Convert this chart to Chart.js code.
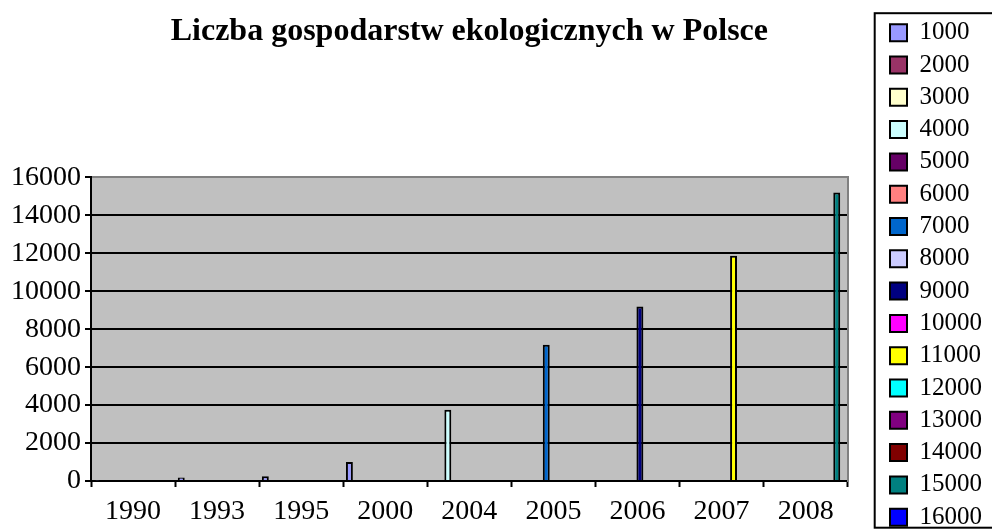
<!DOCTYPE html>
<html>
<head>
<meta charset="utf-8">
<script src="https://cdn.jsdelivr.net/npm/chart.js@4"></script>
<style>
  body { margin: 0; background: #fff; }
</style>
</head>
<body>
<canvas id="chart" width="992" height="531"></canvas>
<script>
// categories (years) on the x axis
const years = ['1990', '1993', '1995', '2000', '2004', '2005', '2006', '2007', '2008'];
// number of organic farms, one bar per year
const farms = [27, 180, 250, 1000, 3760, 7180, 9190, 11870, 15200];
// which legend series each year's bar was drawn in (index into seriesNames)
const seriesOfYear = [0, 0, 0, 0, 3, 6, 8, 10, 14];
// legend series names
const seriesNames = ['1000', '2000', '3000', '4000', '5000', '6000', '7000', '8000',
                     '9000', '10000', '11000', '12000', '13000', '14000', '15000', '16000'];
const seriesColors = ['#9999FF', '#993366', '#FFFFCC', '#CCFFFF', '#660066', '#FF8080', '#0066CC', '#CCCCFF',
                      '#000080', '#FF00FF', '#FFFF00', '#00FFFF', '#800080', '#800000', '#008080', '#0000FF'];
// y axis ticks
const yMax = 16000;
const yStep = 2000;

const serif = "'Times New Roman', 'Liberation Serif', serif";

const datasets = seriesNames.map((name, i) => ({
    label: name,
    data: years.map((y, j) => seriesOfYear[j] === i ? farms[j] : null),
    backgroundColor: seriesColors[i],
    borderColor: '#000',
    borderWidth: 2,
    categoryPercentage: 0.91,
    barPercentage: 1.45
}));

// grey plot background + legend frame
const excelLook = {
    id: 'excelLook',
    beforeDraw(chart) {
        const a = chart.chartArea;
        const c = chart.ctx;
        c.save();
        c.fillStyle = '#C0C0C0';
        c.fillRect(a.left, a.top, a.right - a.left, a.bottom - a.top);
        c.restore();
    },
    afterDraw(chart) {
        const lg = chart.legend;
        const boxes = lg.legendHitBoxes;
        if (!boxes || !boxes.length) return;
        const first = boxes[0];
        const last = boxes[boxes.length - 1];
        const c = chart.ctx;
        c.save();
        c.strokeStyle = '#000';
        c.lineWidth = 2;
        const top = first.top - 7;
        const bottom = last.top + last.height - 2;
        c.strokeRect(lg.left - 8, top, lg.width + 40, bottom - top);
        c.restore();
    }
};

new Chart(document.getElementById('chart'), {
    type: 'bar',
    data: { labels: years, datasets: datasets },
    plugins: [excelLook],
    options: {
        responsive: false,
        animation: false,
        layout: { padding: { left: 7, right: 0, top: 0, bottom: -6 } },
        plugins: {
            title: {
                display: true,
                text: 'Liczba gospodarstw ekologicznych w Polsce',
                color: '#000',
                fullSize: false,
                font: { family: serif, size: 32, weight: 'bold' },
                padding: { top: 13, bottom: 126 }
            },
            legend: {
                position: 'right',
                align: 'end',
                labels: {
                    color: '#000',
                    font: { family: serif, size: 25 },
                    boxWidth: 17,
                    boxHeight: 17,
                    padding: 7.3
                }
            },
            tooltip: { enabled: false }
        },
        scales: {
            x: {
                grid: {
                    drawOnChartArea: false,
                    drawTicks: true,
                    tickLength: 6,
                    tickColor: '#000',
                    tickWidth: 2
                },
                border: { color: '#000', width: 2 },
                ticks: {
                    color: '#000',
                    font: { family: serif, size: 28, lineHeight: 1 },
                    padding: 11,
                    maxRotation: 0,
                    autoSkip: false
                }
            },
            y: {
                min: 0,
                max: yMax,
                grid: {
                    color: ctx => (ctx.tick && ctx.tick.value === yMax) ? '#808080' : '#000',
                    lineWidth: 2,
                    tickLength: 6,
                    tickColor: '#000',
                    tickWidth: 2
                },
                border: { color: '#000', width: 2 },
                ticks: {
                    stepSize: yStep,
                    autoSkip: false,
                    color: '#000',
                    font: { family: serif, size: 28 },
                    padding: 4,
                    callback: v => String(v)
                }
            },
            yRight: {
                position: 'right',
                grid: { display: false },
                ticks: { display: false },
                border: { color: '#808080', width: 2 },
                afterFit(scale) { scale.width = 35; }
            }
        }
    }
});
</script>
</body>
</html>
